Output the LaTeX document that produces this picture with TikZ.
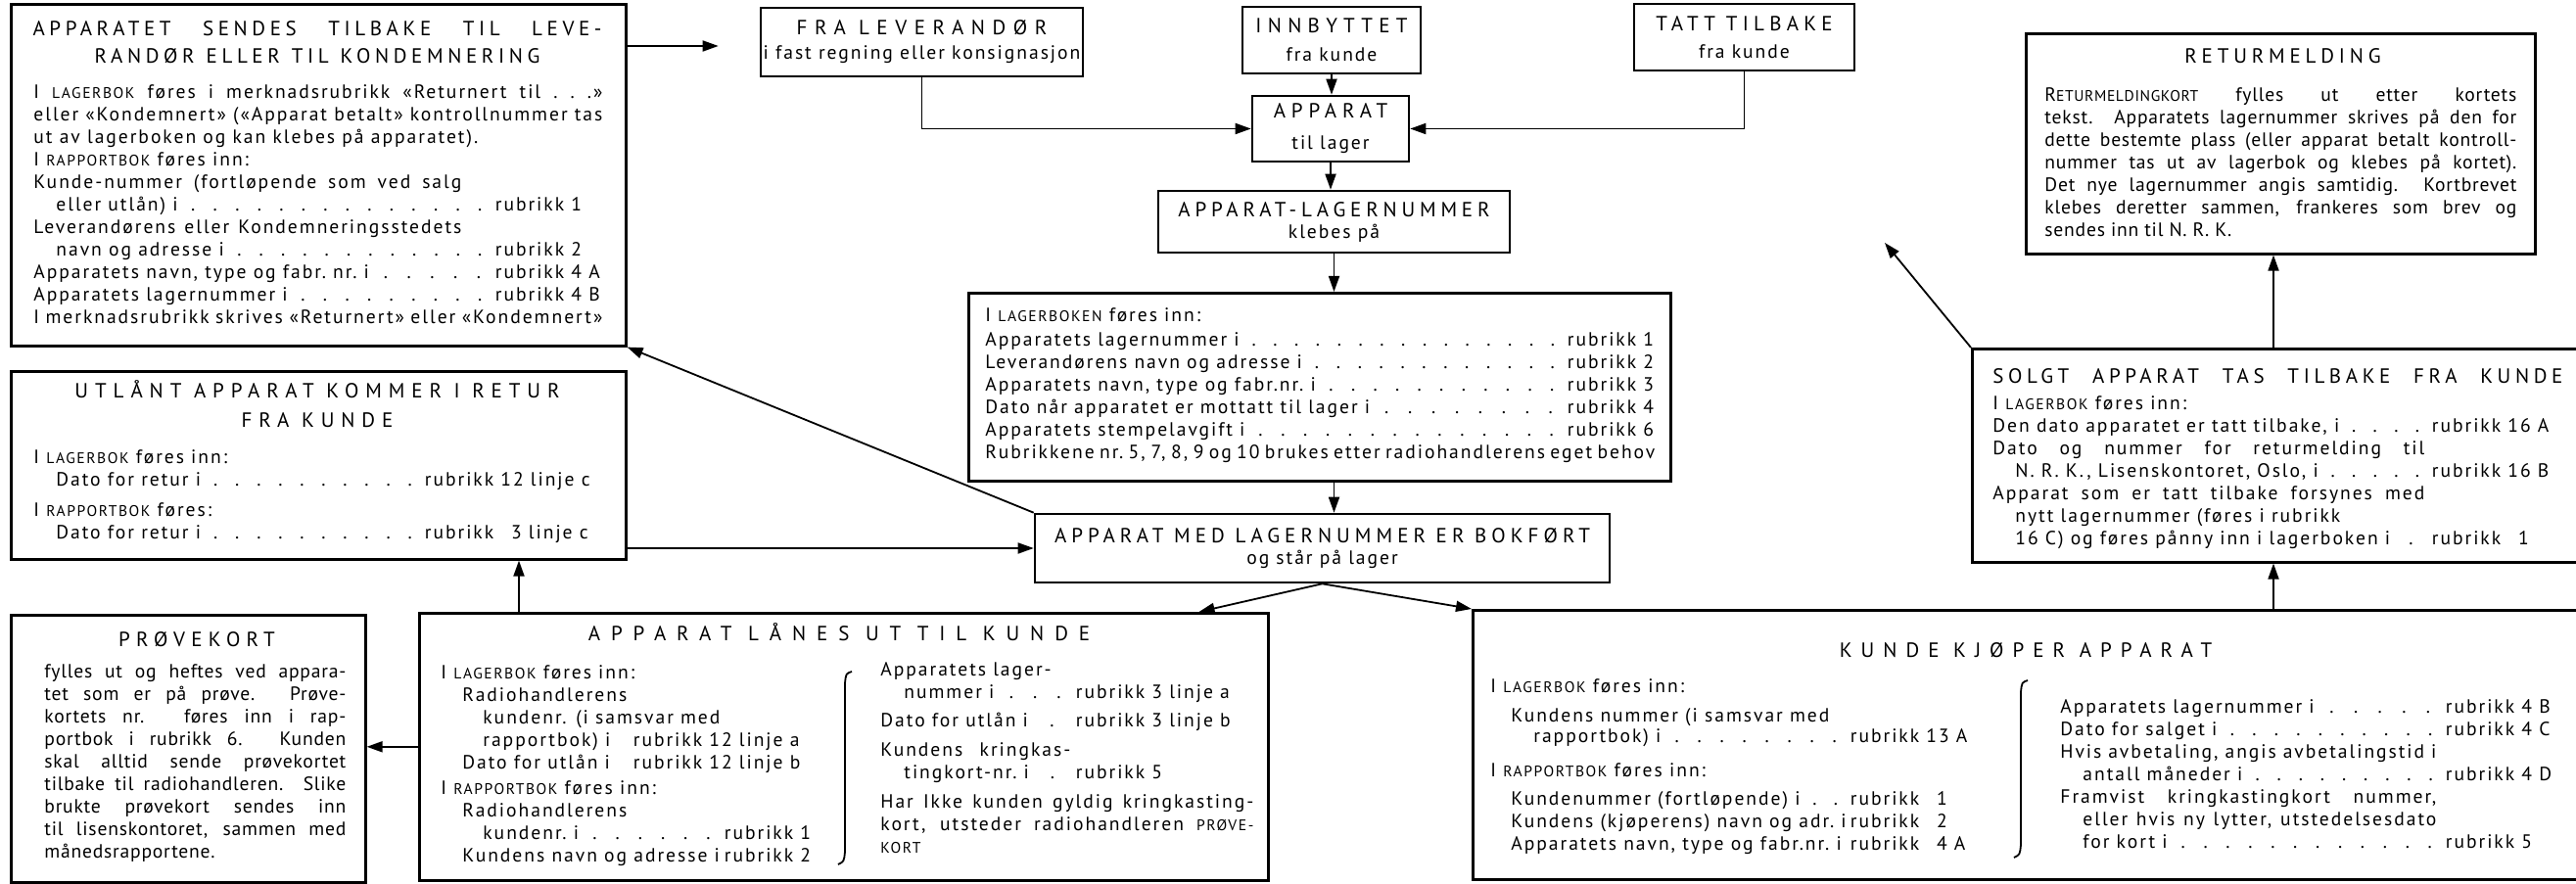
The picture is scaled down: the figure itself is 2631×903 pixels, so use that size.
\documentclass[tikz,border=0pt]{standalone}
\usepackage{fontspec}
\setmainfont{PT Sans}[LetterSpace=10]
\usetikzlibrary{arrows.meta}

% skrift
\newcommand\brod{\fontsize{9.8}{11.5}\selectfont}
\newcommand\tett{\brod\addfontfeatures{LetterSpace=4}}
\newcommand\titfont{\fontsize{10.5}{14}\selectfont}
\newcommand\sm[1]{{\fontsize{7.8}{9}\selectfont #1}}
\newcommand\sperr[2]{{\addfontfeatures{LetterSpace=#1}#2}}
\newcommand\spredd[2]{\makebox[#1][s]{#2}}
% prikkelinje og rubrikk-kolonne
\newcommand\prikk{\xleaders\hbox to 1.1em{\hss.\hss}\hfill}
\newcommand\rub[2][10pt]{\kern2pt\prikk\kern2pt rubrikk\ \makebox[#1][l]{#2}}

\tikzset{
  boks/.style={draw, line width=1.3pt, inner sep=0pt, anchor=north west},
  liten/.style={draw, line width=1.3pt, inner sep=0pt, align=center, font=\titfont},
  tekst/.style={inner sep=0pt, anchor=north west, font=\brod, align=justify, text width=#1},
  tittel/.style={inner sep=0pt, anchor=north, font=\titfont, align=center},
  pil/.style={line width=0.9pt, -{Triangle[length=8pt,width=5.5pt]}},
  strek/.style={line width=0.9pt},
}

\begin{document}
\begin{tikzpicture}[x=0.5pt,y=-0.5pt]
\useasboundingbox (0,0) rectangle (2631,903);
\clip (0,0) rectangle (2631,903);

% store bokser
\node[boks, minimum width=314pt, minimum height=174.5pt] (sendes) at (10,3) {};
\node[boks, minimum width=314pt, minimum height=96pt] (utlant) at (10,378) {};
\node[boks, minimum width=181pt, minimum height=136.5pt] (provekort) at (10,627) {};
\node[boks, minimum width=433.5pt, minimum height=136.5pt] (laanes) at (427,625) {};
\node[boks, minimum width=358.5pt, minimum height=96pt] (lagerbok) at (988,298) {};
\node[boks, minimum width=568.5pt, minimum height=137.5pt] (kjoper) at (1503,622) {};
\node[boks, minimum width=313.5pt, minimum height=109pt] (solgt) at (2013,355) {};
\node[boks, minimum width=260pt, minimum height=112.5pt] (retur) at (2068,33) {};

% små bokser
\node[liten, minimum width=164.5pt, minimum height=35pt] (fra) at (941.5,43)
  {\sperr{36}{FRA LEVERANDØR}\\[-1.5pt]{\brod i fast regning eller konsignasjon}};
\node[liten, minimum width=91pt, minimum height=34pt] (innbyttet) at (1360,41)
  {\sperr{30}{INNBYTTET}\\[0.5pt]{\brod fra kunde}};
\node[liten, minimum width=112.5pt, minimum height=34pt] (tatt) at (1781.5,38)
  {\sperr{25}{TATT TILBAKE}\\{\brod fra kunde}};
\node[liten, minimum width=80pt, minimum height=33.5pt] (apparat) at (1359,131.5)
  {\sperr{28}{APPARAT}\\[2pt]{\brod til lager}};
\node[liten, minimum width=179.5pt, minimum height=31.5pt] (lagernr) at (1362.5,226.5)
  {\sperr{23}{APPARAT-LAGERNUMMER}\\[-3pt]{\brod klebes på}};
\node[liten, minimum width=293.5pt, minimum height=35pt] (bokfort) at (1350.5,560)
  {\sperr{24}{APPARAT MED LAGERNUMMER ER BOKFØRT}\\[-3pt]{\brod og står på lager}};

% tekst: sendes tilbake
\node[tittel, text width=290.5pt] (sendestittel) at (324,21)
  {\sperr{22}{APPARATET\hfill SENDES\hfill TILBAKE\hfill TIL\hfill LEVE-}\\
   \makebox[\linewidth]{\sperr{22}{RANDØR\hspace{6pt}ELLER\hspace{6pt}TIL\hspace{6pt}KONDEMNERING}}};
\node[tekst=290.5pt] (sendestekst) at (34,86) {%
I \sm{LAGERBOK} føres i merknadsrubrikk «Returnert til .~.~.»\linebreak
eller «Kondemnert» («Apparat betalt» kontrollnummer tas\linebreak
ut av lagerboken og kan klebes på apparatet).\\
I \sm{RAPPORTBOK} føres inn:\\
\spredd{218.5pt}{Kunde-nummer (fortløpende som ved salg}\\
\hspace*{11.5pt}eller utlån) i\rub[16pt]{1}\\
\spredd{218.5pt}{Leverandørens eller Kondemneringsstedets}\\
\hspace*{11.5pt}navn og adresse i\rub[16pt]{2}\\
Apparatets navn, type og fabr.\ nr.\ i\rub[16pt]{4 A}\\
Apparatets lagernummer i\rub[16pt]{4 B}\\
I merknadsrubrikk skrives «Returnert» eller «Kondemnert»};

% tekst: utlånt apparat
\node[tittel] (utlanttittel) at (324,388)
  {\sperr{33}{UTLÅNT APPARAT KOMMER I RETUR}\\[1pt]\sperr{33}{FRA KUNDE}};
\node[tekst=290.5pt] (utlanttekst) at (34,459) {%
I \sm{LAGERBOK} føres inn:\\
\hspace*{11.5pt}Dato for retur i\rub[52pt]{12 linje c}\\[4pt]
I \sm{RAPPORTBOK} føres:\\
\hspace*{11.5pt}Dato for retur i\rub[52pt]{\phantom{1}3 linje c}};

% tekst: prøvekort
\node[tittel] (provetittel) at (201,645) {\sperr{30}{PRØVEKORT}};
\node[tekst=154pt, font=\tett] (provetekst) at (45,678) {%
fylles ut og heftes ved appara-\linebreak
tet som er på prøve. Prøve-\linebreak
kortets nr. føres inn i rap-\linebreak
portbok i rubrikk 6. Kunden\linebreak
skal alltid sende prøvekortet\linebreak
tilbake til radiohandleren. Slike\linebreak
brukte prøvekort sendes inn\linebreak
til lisenskontoret, sammen med\linebreak
månedsrapportene.};

% tekst: apparat lånes ut
\node[tittel] (laanestittel) at (857,636) {\sperr{52}{APPARAT LÅNES UT TIL KUNDE}};
\node[tekst=189.5pt] (laanesvenstre) at (450,679) {%
I \sm{LAGERBOK} føres inn:\\
\hspace*{11pt}Radiohandlerens\\
\hspace*{21.5pt}kundenr. (i samsvar med\\
\hspace*{21.5pt}rapportbok) i\hfill rubrikk\ \makebox[52.5pt][l]{12 linje a}\\
\hspace*{11pt}Dato for utlån i\hfill rubrikk\ \makebox[52.5pt][l]{12 linje b}\\[1.5pt]
I \sm{RAPPORTBOK} føres inn:\\
\hspace*{11pt}Radiohandlerens\\
\hspace*{21.5pt}kundenr.\ i\rub[6pt]{1}\\
\hspace*{11pt}Kundens navn og adresse i\hfill rubrikk\ \makebox[6pt][l]{2}};
\node[tekst=190.5pt] (laanesh) at (899,676) {%
Apparatets lager-\\
\hspace*{12pt}nummer i\rub[52pt]{3 linje a}\\[3pt]
Dato for utlån i\rub[52pt]{3 linje b}\\[3.5pt]
\spredd{97pt}{Kundens kringkas-}\\
\hspace*{12pt}tingkort-nr.\ i\rub[52pt]{5}\\[3.5pt]
Har Ikke kunden gyldig kringkasting-\linebreak
kort, utsteder radiohandleren \sm{PRØVE-}\linebreak
\sm{KORT}};

% tekst: lagerboken
\node[tekst=342pt] (lagerboktekst) at (1006,314) {%
I \sm{LAGERBOKEN} føres inn:\\[1pt]
Apparatets lagernummer i\rub[6pt]{1}\\
Leverandørens navn og adresse i\rub[6pt]{2}\\
Apparatets navn, type og fabr.nr.\ i\rub[6pt]{3}\\
Dato når apparatet er mottatt til lager i\rub[6pt]{4}\\
Apparatets stempelavgift i\rub[6pt]{6}\\
Rubrikkene nr.\ 5, 7, 8, 9 og 10 brukes etter radiohandlerens eget behov};

% tekst: kunde kjøper
\node[tittel] (kjopertittel) at (2069,656) {\sperr{43}{KUNDE KJØPER APPARAT}};
\node[tekst=256.5pt] (kjopervenstre) at (1522,693) {%
I \sm{LAGERBOK} føres inn:\\[3.5pt]
\hspace*{10.5pt}Kundens nummer (i samsvar med\\[-1pt]
\hspace*{22pt}rapportbok) i\rub[34pt]{13 A}\\[6pt]
I \sm{RAPPORTBOK} føres inn:\\[3pt]
\hspace*{10.5pt}Kundenummer (fortløpende) i\rub[34pt]{\phantom{1}1}\\
\hspace*{10.5pt}Kundens (kjøperens) navn og adr.\ i\hfill rubrikk\ \makebox[34pt][l]{\phantom{1}2}\\
\hspace*{10.5pt}Apparatets navn, type og fabr.nr.\ i\hfill rubrikk\ \makebox[34pt][l]{\phantom{1}4 A}};
\node[tekst=257.5pt] (kjoperh) at (2104,714) {%
Apparatets lagernummer i\rub[22pt]{4 B}\\
Dato for salget i\rub[22pt]{4 C}\\
\spredd{192pt}{Hvis avbetaling, angis avbetalingstid i}\\
\hspace*{11.5pt}antall måneder i\rub[22pt]{4 D}\\
\spredd{192pt}{Framvist kringkastingkort nummer,}\\
\hspace*{11.5pt}\spredd{180.5pt}{eller hvis ny lytter, utstedelsesdato}\\
\hspace*{11.5pt}for kort i\rub[22pt]{5}};

% tekst: solgt apparat tas tilbake
\node[tittel, text width=291pt, anchor=north west] (solgttittel) at (2035,376)
  {\sperr{22}{SOLGT\hfill APPARAT\hfill TAS\hfill TILBAKE\hfill FRA\hfill KUNDE}};
\node[tekst=291pt] (solgttekst) at (2035,404) {%
I \sm{LAGERBOK} føres inn:\\
Den dato apparatet er tatt tilbake, i\rub[28pt]{16 A}\\
\spredd{220.5pt}{Dato og nummer for returmelding til}\\
\hspace*{11.5pt}N.\ R.\ K., Lisenskontoret, Oslo, i\rub[28pt]{16 B}\\
\spredd{220.5pt}{Apparat som er tatt tilbake forsynes med}\\
\hspace*{11.5pt}nytt lagernummer (føres i rubrikk\\
\hspace*{11.5pt}16 C) og føres pånny inn i lagerboken i\rub[28pt]{\phantom{1}1}};

% tekst: returmelding
\node[tittel] (returtittel) at (2331.5,49) {\sperr{23}{RETURMELDING}};
\node[tekst=241pt, font=\tett] (returtekst) at (2088,89) {%
R\sm{ETURMELDINGKORT} fylles ut etter kortets\linebreak
tekst. Apparatets lagernummer skrives på den for\linebreak
dette bestemte plass (eller apparat betalt kontroll-\linebreak
nummer tas ut av lagerbok og klebes på kortet).\linebreak
Det nye lagernummer angis samtidig. Kortbrevet\linebreak
klebes deretter sammen, frankeres som brev og\linebreak
sendes inn til N. R. K.};

% klammer
\draw[strek] (870,686) .. controls (864,688) .. (863,698) -- (863,870)
  .. controls (862,880) .. (856,883);
\draw[strek] (2071,695) .. controls (2065,697) .. (2064,707) -- (2064,863)
  .. controls (2063,873) .. (2057,876);

% piler
\coordinate (lu) at ([xshift=51.5pt]laanes.north west);
\coordinate (ks) at ([xshift=409.5pt]kjoper.north west);
\coordinate (fri) at (1925,248);
\draw[pil, shorten >=21pt] ([yshift=-22pt]sendes.north east) -- ([yshift=-22pt]sendes.north east -| fra.west);
\draw[pil] (fra) |- (apparat);
\draw[pil] (tatt) |- (apparat);
\draw[pil] (innbyttet.south) -- (innbyttet.south |- apparat.north);
\draw[pil] (apparat.south) -- (apparat.south |- lagernr.north);
\draw[pil] (lagernr.south) -- (lagernr.south |- lagerbok.north);
\draw[pil] (lagernr.south |- lagerbok.south) -- (lagernr.south |- bokfort.north);
\draw[pil] (bokfort.north west) -- (sendes.south east);
\draw[pil] (bokfort.west -| utlant.east) -- (bokfort.west);
\draw[pil] (bokfort.south) -- ([xshift=-36pt]laanes.north east);
\draw[pil] (bokfort.south) -- (kjoper.north west);
\draw[pil] (lu) -- (lu |- utlant.south);
\draw[pil] (laanes.west) -- (laanes.west -| provekort.east);
\draw[pil] (ks) -- (ks |- solgt.south);
\draw[pil] (solgt.north -| ks) -- (ks |- retur.south);
\draw[pil] (solgt.north west) -- (fri);
\end{tikzpicture}
\end{document}
